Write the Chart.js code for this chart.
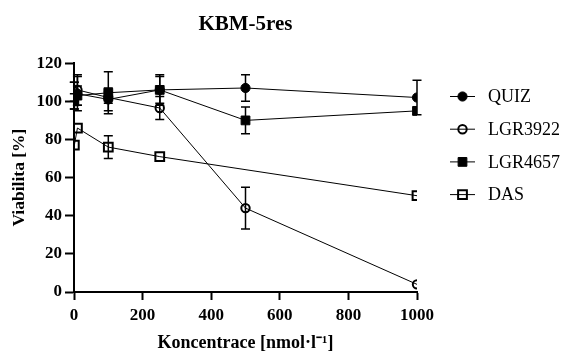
<!DOCTYPE html>
<html>
<head>
<meta charset="utf-8">
<script src="https://cdn.jsdelivr.net/npm/chart.js"></script>
<style>
  body { margin: 0; background: #fff; }
  canvas { display: block; }
</style>
</head>
<body>
<canvas id="myChart" width="561" height="352"></canvas>
<script>
// koncentrace [nmol/l]
const concentrations = [1, 10, 100, 250, 500, 1000]

const seriesNames = ['QUIZ', 'LGR3922', 'LGR4657', 'DAS']

const quizValues = [103, 104, 101, 106, 107, 102]
const quizErrors = [7, 9, 6, 8, 7, 9]

const lgr3922Values = [105, 106, 102, 96.5, 44, 4]
const lgr3922Errors = [5, 8, 3, 6, 11, null]

const lgr4657Values = [100, 103, 104.5, 106, 90, 95]
const lgr4657Errors = [4, 5, 11, 7, 7, null]

// DAS has no value at 500
const dasValues = [77, 86, 76, 71, null, 50.5]
const dasErrors = [null, null, 6, null, null, null]

const xTicks = [0, 200, 400, 600, 800, 1000]
const yTicks = [0, 20, 40, 60, 80, 100, 120]

const serif = "'Liberation Serif', 'Times New Roman', serif"

function makePoints(values, errors) {
    const pts = []
    for (let i = 0; i < concentrations.length; i++) {
        if (values[i] === null) continue
        pts.push({x: concentrations[i], y: values[i], err: errors[i]})
    }
    return pts
}

function makeDataset(label, values, errors, style, filled) {
    return {
        label: label,
        data: makePoints(values, errors),
        showLine: true,
        borderColor: 'black',
        borderWidth: 1,
        pointStyle: style,
        pointRadius: style === 'rect' ? 6.2 : (filled ? 4.6 : 4.2),
        pointBorderWidth: filled ? 1 : 2,
        pointBorderColor: 'black',
        pointBackgroundColor: filled ? 'black' : 'rgba(0,0,0,0)',
        pointHoverRadius: 5
    }
}

// error bars drawn under the markers
const errorBars = {
    id: 'errorBars',
    beforeDatasetsDraw(chart) {
        const ctx = chart.ctx
        const xs = chart.scales.x
        const ys = chart.scales.y
        ctx.save()
        ctx.strokeStyle = 'black'
        ctx.lineWidth = 1.5
        chart.data.datasets.forEach(ds => {
            ds.data.forEach(p => {
                if (!p.err) return
                const px = xs.getPixelForValue(p.x)
                const top = ys.getPixelForValue(p.y + p.err)
                const bot = ys.getPixelForValue(Math.max(0, p.y - p.err))
                ctx.beginPath()
                ctx.moveTo(px, top)
                ctx.lineTo(px, bot)
                ctx.moveTo(px - 4.5, top)
                ctx.lineTo(px + 4.5, top)
                ctx.moveTo(px - 4.5, bot)
                ctx.lineTo(px + 4.5, bot)
                ctx.stroke()
            })
        })
        ctx.restore()
    }
}

// legend on the right with line + marker like the original
const sideLegend = {
    id: 'sideLegend',
    afterDraw(chart) {
        const ctx = chart.ctx
        const x0 = 450
        const y0 = 96.5
        const step = 32.7
        ctx.save()
        chart.data.datasets.forEach((ds, i) => {
            const y = y0 + i * step
            ctx.strokeStyle = 'black'
            ctx.lineWidth = 1
            ctx.beginPath()
            ctx.moveTo(x0, y)
            ctx.lineTo(x0 + 25, y)
            ctx.stroke()
            ctx.fillStyle = ds.pointBackgroundColor
            ctx.strokeStyle = 'black'
            ctx.lineWidth = ds.pointBorderWidth
            Chart.helpers.drawPoint(ctx, {
                pointStyle: ds.pointStyle,
                radius: ds.pointRadius,
                rotation: 0,
                borderWidth: ds.pointBorderWidth
            }, x0 + 12.5, y)
            ctx.fillStyle = 'black'
            ctx.font = '18px ' + serif
            ctx.textAlign = 'left'
            ctx.textBaseline = 'middle'
            ctx.fillText(ds.label, x0 + 38, y + 1)
        })
        ctx.restore()
    }
}

const ctx = document.getElementById('myChart').getContext('2d')

const myChart = new Chart(ctx, {
    type: 'scatter',
    data: {
        datasets: [
            makeDataset(seriesNames[0], quizValues, quizErrors, 'circle', true),
            makeDataset(seriesNames[1], lgr3922Values, lgr3922Errors, 'circle', false),
            makeDataset(seriesNames[2], lgr4657Values, lgr4657Errors, 'rect', true),
            makeDataset(seriesNames[3], dasValues, dasErrors, 'rect', false)
        ]
    },
    options: {
        responsive: false,
        animation: false,
        layout: {
            padding: {left: 0, right: 144, top: 0, bottom: 0}
        },
        plugins: {
            legend: {display: false},
            tooltip: {enabled: false},
            title: {
                display: true,
                text: 'KBM-5res',
                fullSize: false,
                color: 'black',
                font: {family: serif, size: 21, weight: 'bold', lineHeight: 1.2},
                padding: {top: 12, bottom: 26}
            }
        },
        scales: {
            x: {
                type: 'linear',
                min: 0,
                max: 1000,
                afterBuildTicks: scale => {
                    scale.ticks = xTicks.map(v => ({value: v}))
                },
                afterFit: scale => {
                    scale.height = 60
                },
                border: {display: true, color: 'black', width: 2},
                grid: {
                    display: true,
                    drawOnChartArea: false,
                    drawTicks: true,
                    tickLength: 8,
                    tickWidth: 2,
                    tickColor: 'black'
                },
                ticks: {
                    color: 'black',
                    padding: 5,
                    maxRotation: 0,
                    callback: v => String(v),
                    font: {family: serif, size: 17, weight: 'bold'}
                },
                title: {
                    display: true,
                    text: 'Koncentrace [nmol·l⁻¹]',
                    color: 'black',
                    font: {family: serif, size: 18, weight: 'bold', lineHeight: 1},
                    padding: {top: 0, bottom: 0}
                }
            },
            y: {
                type: 'linear',
                min: 0,
                max: 120,
                afterBuildTicks: scale => {
                    scale.ticks = yTicks.map(v => ({value: v}))
                },
                afterFit: scale => {
                    scale.width = 74
                },
                border: {display: true, color: 'black', width: 2},
                grid: {
                    display: true,
                    drawOnChartArea: false,
                    drawTicks: true,
                    tickLength: 9,
                    tickWidth: 2,
                    tickColor: 'black'
                },
                ticks: {
                    color: 'black',
                    padding: 3,
                    callback: v => String(v),
                    font: {family: serif, size: 17, weight: 'bold'}
                },
                title: {
                    display: true,
                    text: 'Viabilita [%]',
                    color: 'black',
                    font: {family: serif, size: 17.5, weight: 'bold', lineHeight: 1},
                    padding: {top: 11, bottom: 0}
                }
            }
        }
    },
    plugins: [errorBars, sideLegend]
})
</script>
</body>
</html>
